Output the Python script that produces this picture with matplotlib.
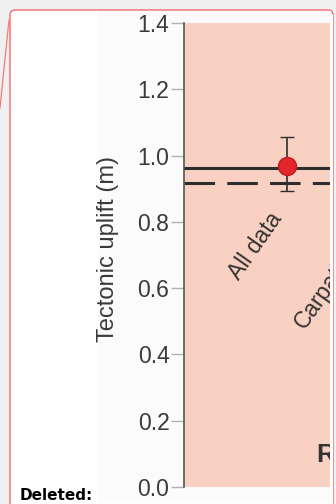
import matplotlib
matplotlib.use("Agg")
import matplotlib.pyplot as plt
from matplotlib.patches import FancyBboxPatch, Rectangle

# ---- data ----
y_ticks = [0.0, 0.2, 0.4, 0.6, 0.8, 1.0, 1.2, 1.4]
y_tick_labels = ["0.0", "0.2", "0.4", "0.6", "0.8", "1.0", "1.2", "1.4"]
point_x = [0.705]
point_y = [0.969]
err_low = [0.075]
err_high = [0.087]
mean_all = 0.961      # solid line
mean_other = 0.916    # dashed line
group_labels = ["All data", "Carpathians"]
region_label = "Region"
y_label = "Tectonic uplift (m)"
comment_label = "Deleted:"

W, H = 336, 504
fig = plt.figure(figsize=(W / 100, H / 100), dpi=100, facecolor="#f0f0f0")

# background overlay in pixel coordinates
bg = fig.add_axes([0, 0, 1, 1], zorder=0)
bg.set_xlim(0, W)
bg.set_ylim(H, 0)
bg.axis("off")
box = FancyBboxPatch((10, 10), 323, 530, boxstyle="round,pad=0,rounding_size=5",
                     facecolor="white", edgecolor="#f26a6a", lw=1.0)
bg.add_patch(box)
bg.add_patch(Rectangle((98, 11), 233, 492, facecolor="#fbfbfb", edgecolor="none"))
bg.plot([9, 0], [20, 108], color="#f47a7a", lw=0.9)
bg.text(20, 496, comment_label, fontsize=11, fontweight="bold", color="black",
        family="DejaVu Sans", va="center", ha="left")

# main chart axes
ax = fig.add_axes([184 / W, (H - 487) / H, 146 / W, 464 / H], zorder=1)
ax.set_facecolor("#f9d1c3")
ax.set_xlim(0, 1)
ax.set_ylim(0, 1.4)
for s in ["top", "right", "bottom"]:
    ax.spines[s].set_visible(False)
ax.spines["left"].set_color("#555555")
ax.spines["left"].set_linewidth(1.2)
ax.set_xticks([])
ax.set_yticks(y_ticks)
ax.set_yticklabels(y_tick_labels, family="Liberation Sans")
ax.tick_params(axis="y", direction="out", length=9.5, width=1, color="#b0b0b0",
               labelcolor="#3a3a3a", labelsize=16.5, pad=1)
ax.set_ylabel(y_label, fontsize=17, color="#3a3a3a", family="Liberation Sans")
ax.yaxis.set_label_coords(-0.445, 0.513)

ax.axhline(mean_all, color="#2e2e2e", lw=2.2, zorder=2)
ax.axhline(mean_other, color="#2e2e2e", lw=2.2, dashes=(10, 4), zorder=2)
ax.errorbar(point_x, point_y, yerr=[err_low, err_high], fmt="o", color="#2e2e2e",
            ecolor="#2e2e2e", elinewidth=1.2, capsize=4.7, capthick=1.8,
            markersize=13, markerfacecolor="#e3262c", markeredgecolor="#c01c22",
            markeredgewidth=1, zorder=3)

t1 = ax.text(0.49, 0.52, group_labels[0], rotation=55, fontsize=16.5, color="#333333",
             family="Liberation Sans", ha="center", va="center",
             transform=ax.transAxes)
t2 = ax.text(0.855, 0.332, group_labels[1], rotation=55, fontsize=16.5, color="#333333",
             family="Liberation Sans", ha="left", va="bottom", rotation_mode="anchor",
             transform=ax.transAxes)
t3 = ax.text(0.905, 0.054, region_label, fontsize=18.5, fontweight="bold", color="#333333",
             family="Liberation Sans", ha="left", va="baseline", transform=ax.transAxes)
for t in (t1, t2, t3):
    t.set_clip_on(True)
    t.set_clip_box(ax.bbox)

# thin white strip between the chart image and the comment-box border
top = fig.add_axes([0, 0, 1, 1], zorder=3)
top.set_xlim(0, W)
top.set_ylim(H, 0)
top.axis("off")
top.patch.set_alpha(0)
top.add_patch(Rectangle((330, 14), 2.5, 490, facecolor="white", edgecolor="none"))

fig.savefig("out.png", dpi=100, facecolor=fig.get_facecolor())
